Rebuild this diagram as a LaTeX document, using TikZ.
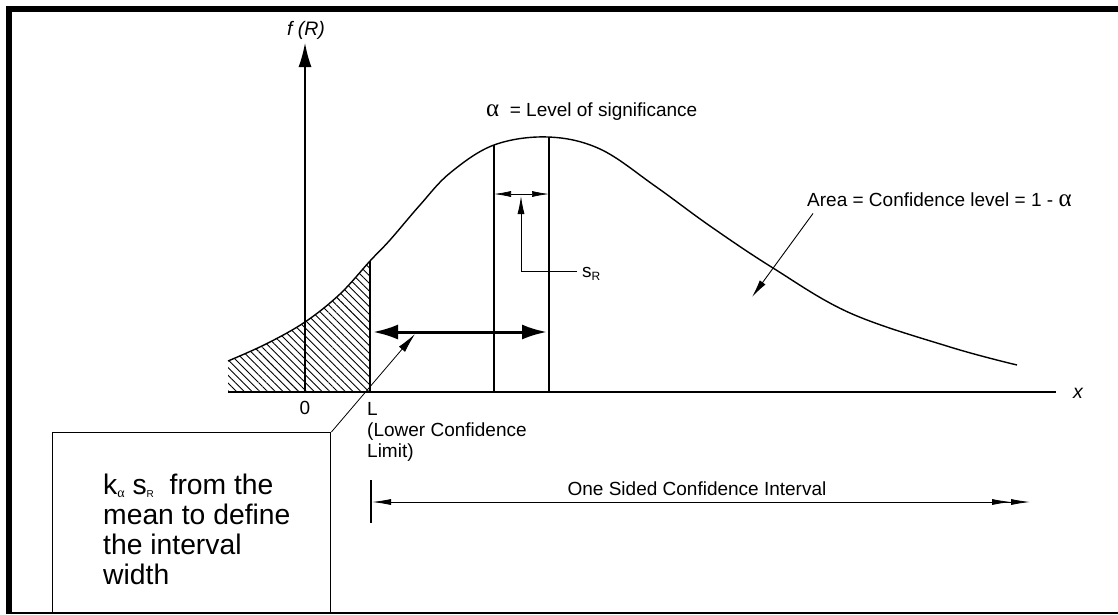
\documentclass[tikz,border=0pt]{standalone}
\usepackage{fontspec}
\setmainfont{Liberation Sans}
\newfontfamily\greekfont{Liberation Serif}
\usetikzlibrary{positioning,arrows.meta,patterns.meta}

\newcommand\bigalpha{{\greekfont\fontsize{25}{25}\selectfont α}}
\newcommand\lowsub[2][12]{\raisebox{-3pt}{\fontsize{#1}{#1}\selectfont #2}}

\tikzset{
  lbl/.style={font=\fontsize{19}{21}\selectfont,inner sep=0pt},
  ilbl/.style={inner sep=0pt,font=\fontsize{19.5}{21}\selectfont\itshape},
  axisline/.style={line width=1.4pt},
  leader/.style={line width=0.9pt,-{Latex[length=18pt,width=7pt]}},
  thintip/.tip={Latex[length=19pt,width=6pt]},
}

\begin{document}
\begin{tikzpicture}[x=1pt,y=-1pt]
\useasboundingbox (0,0) rectangle (1118,614);

% frame
\draw[line width=6pt] (9,614) -- (9,9) -- (1118,9);
\draw[line width=1.5pt] (9,613) -- (1118,613);

% axes
\coordinate (xstart) at (228,392);
\coordinate (xend) at (1056,392);
\coordinate (origin) at (305,392);
\coordinate (ytop) at (305,43);
\draw[axisline] (xstart) -- (xend);
\draw[axisline,-{Latex[length=24pt,width=13pt]}] (origin) -- (ytop);
\node[ilbl] (fR) at (306,30) {f (R)};
\node[ilbl,anchor=west] (xlab) at (1073,393) {x};

% hatched tail below L
\begin{scope}
  \clip (228,392) -- plot[smooth,tension=0.6] coordinates {(228,361) (266,344) (305,322) (340,294) (370,261) (390,240) (420,205) (450,173) (494,145) (548,137) (600,149) (655,186) (710,226) (773,268) (850,313) (950,347) (1017,365)} -- (1017,392) -- cycle;
  \fill[pattern={Lines[angle=-45,distance=5.5pt,line width=0.9pt]}] (228,100) rectangle (370,392);
\end{scope}

% density
\draw[axisline] plot[smooth,tension=0.6] coordinates {(228,361) (266,344) (305,322) (340,294) (370,261) (390,240) (420,205) (450,173) (494,145) (548,137) (600,149) (655,186) (710,226) (773,268) (850,313) (950,347) (1017,365)};

% verticals
\coordinate (Ltop) at (370,261);
\coordinate (L) at (370,392);
\coordinate (m1top) at (494,145);
\coordinate (m1) at (494,392);
\coordinate (m2top) at (549,137);
\coordinate (m2) at (549,392);
\draw[axisline] (L) -- (Ltop);
\draw[axisline] (m1) -- (m1top) (m2) -- (m2top);

% k_alpha s_R span
\coordinate (spanL) at (373,332);
\coordinate (spanR) at (547,332);
\draw[line width=3pt,{Latex[length=25pt,width=15pt]}-{Latex[length=25pt,width=15pt]}] (spanL) -- (spanR);

% s_R
\coordinate (sA) at (494,194);
\coordinate (sB) at (549,194);
\draw[line width=0.7pt,{Latex[length=17pt,width=6pt]}-{Latex[length=17pt,width=6pt]}] (sA) -- (sB);
\node[lbl,anchor=base west] (sR) at (582,277) {s\lowsub{R}};
\coordinate (sRfoot) at (577,271);
\coordinate (sRtip) at (521,196);
\draw[leader] (sRfoot) -| (sRtip);

% labels
\node[lbl,anchor=base west] (sig) at (486,116) {\bigalpha\ \ = Level of significance};
\node[lbl,anchor=base west] (area) at (807,206) {Area = Confidence level = 1 - \bigalpha};
\coordinate (areatip) at (752,297);
\draw[leader] ([xshift=6pt,yshift=-7pt]area.south west) -- (areatip);

\node[lbl] (zero) at (305,408) {0};
\node[lbl,anchor=base west] (Llab) at (367,415) {L};
\node[lbl,anchor=north west,align=left] (Lnote) at (367,423) {(Lower Confidence\\Limit)};

% note box
\node[draw,line width=1.4pt,anchor=north west,minimum width=278pt,minimum height=181pt,inner sep=0pt] (box) at (52,432) {};
\node[anchor=north west,align=left,inner sep=0pt,font=\fontsize{28.3}{30}\selectfont] (boxtxt) at (103,474)
  {k\lowsub[14]{\greekfont α}\ s\lowsub[10]{R}\ \ from the\\mean to define\\the interval\\width};
\coordinate (spantip) at (415,334);
\draw[line width=0.8pt,-{Latex[length=20pt,width=8pt]}] (box.north east) -- (spantip);

% one sided interval
\coordinate (tickT) at (371,480);
\coordinate (tickB) at (371,523);
\coordinate (osL) at (372,502);
\coordinate (osR) at (1030,502);
\draw[line width=1.4pt] (tickT) -- (tickB);
\draw[line width=0.8pt,{thintip}-{thintip[]thintip}] (osL) -- (osR);
\node[lbl,anchor=base] (oneside) at (697,495) {One Sided Confidence Interval};

\end{tikzpicture}
\end{document}
